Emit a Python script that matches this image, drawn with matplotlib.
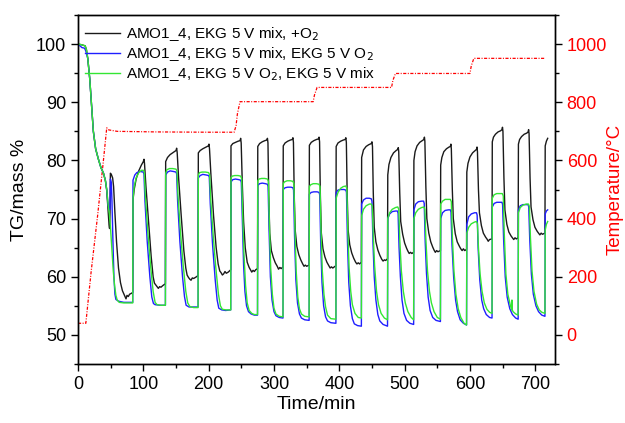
import matplotlib
matplotlib.use("Agg")
import matplotlib.pyplot as plt
from matplotlib.ticker import MultipleLocator
import numpy as np

plt.rcParams['font.family'] = ['Liberation Sans', 'DejaVu Sans']

# ---------------- data ----------------
labels = ["AMO1_4, EKG 5 V mix, +O$_2$",
          "AMO1_4, EKG 5 V mix, EKG 5 V O$_2$",
          "AMO1_4, EKG 5 V O$_2$, EKG 5 V mix"]

black_t = [0, 5, 11, 13, 15, 18, 21, 23.5, 27, 31, 35, 39, 42, 44, 46, 47.5, 48.3, 49, 49.6, 51, 53, 54.5, 56.5, 59, 62, 65, 68, 70, 72, 73.5, 75, 77, 79, 81, 83.8,
           84.2, 86, 89, 93, 97, 100, 101, 101.8, 104, 108, 112, 115, 117, 119, 121, 123, 125, 127, 130, 133.8,
           134.2, 137, 141, 146, 150, 151, 151.8, 154, 158, 162, 165, 167, 169, 171, 173, 175, 177, 180, 183.8,
           184.2, 187, 191, 196, 199.5, 200.5, 201.3, 203.5, 207.5, 211.5, 214.5, 217, 219, 221, 223, 225, 227, 230, 233.8,
           234.2, 237, 241, 245, 248, 249, 249.8, 251.5, 253.5, 256, 259, 262, 264, 266, 268, 270, 272, 274.8,
           275.2, 278, 282, 286, 289, 290, 290.8, 292, 293.5, 296, 299, 302, 305, 307, 309, 311, 313.8,
           314.2, 317, 321, 325, 328, 329, 329.8, 331, 332.5, 335, 338, 341, 344, 346, 348, 350, 353.8,
           354.2, 357, 361, 365, 368, 369, 369.8, 371, 372.5, 375, 378, 381, 384, 386, 388, 390, 394.8,
           395.2, 398, 402, 406, 409, 410, 410.8, 412, 413.5, 416, 419, 422, 425, 427, 429, 431, 433.8,
           434.2, 437, 441, 445, 449, 450, 450.8, 452, 453.5, 456, 459, 462, 465, 467, 469, 471, 473.8,
           474.2, 476, 479, 483, 487, 489.5, 490.3, 491, 492.5, 494, 497, 500, 503, 505, 507, 509, 511, 513.8,
           514.2, 516, 519, 523, 527, 529.5, 530.3, 531, 532.5, 534, 537, 540, 543, 545, 547, 549, 551, 554.8,
           555.2, 557, 560, 564, 568, 570, 570.8, 571.5, 573, 574.5, 577.5, 580.5, 584, 586, 588, 590, 592, 594.8,
           595.2, 597, 600, 604, 608, 610, 610.8, 611.5, 613, 614.5, 617.5, 620.5, 624, 626, 628, 630, 633.8,
           634.2, 636, 639, 643, 647, 649, 649.8, 650.5, 652, 653.5, 656.5, 659.5, 663, 665, 667, 669, 671, 673.8,
           674.2, 676, 679, 683, 687, 689, 689.8, 690.5, 692, 693.5, 696.5, 699.5, 703, 705, 707, 709, 711, 714.8,
           715.2, 717, 719]
black_m = [100, 99.9, 99.7, 99, 97.5, 94, 89, 85, 82, 80.3, 78.8, 77.8, 76.5, 74.8, 71.5, 69, 68.3, 71, 77.8, 77.6, 77, 75.5, 71, 66, 61.5, 59, 57.6, 57.1, 56.6, 56.2, 56.8, 56.6, 57.0, 57.1, 57.3,
           73.2, 75, 76.8, 78.2, 79.2, 79.8, 80.2, 79.5, 75.5, 69.5, 63.5, 60, 58.9, 58.6, 58.3, 58.0, 58.3, 58.2, 58.5, 58.8,
           79.8, 80.5, 81.0, 81.4, 81.7, 82.1, 81.4, 77, 70.5, 64.5, 61.5, 60.3, 59.9, 59.6, 59.4, 59.8, 59.7, 59.9, 60.2,
           81.3, 81.7, 82.0, 82.3, 82.5, 82.8, 82.0, 77.5, 70.5, 65, 62.2, 61, 60.7, 60.3, 60.5, 60.9, 60.6, 60.8, 61.2,
           82.5, 82.9, 83.1, 83.3, 83.4, 83.8, 83.0, 76, 69.5, 65, 62.5, 61.6, 61.2, 60.8, 61.1, 60.9, 61.2, 61.4,
           82.4, 82.9, 83.2, 83.4, 83.5, 83.8, 83.0, 74, 67.5, 64.5, 63.3, 62.4, 61.8, 61.3, 61.6, 61.4, 61.7,
           82.5, 83.0, 83.3, 83.5, 83.6, 83.9, 83.1, 74, 68, 65.2, 63.8, 62.9, 62.2, 61.8, 62.0, 61.8, 62.0,
           82.6, 83.1, 83.4, 83.6, 83.7, 84.0, 83.2, 74, 67.5, 64.8, 63.4, 62.5, 61.9, 61.5, 61.7, 61.5, 61.9,
           82.4, 83.0, 83.3, 83.5, 83.6, 83.9, 83.1, 74.5, 68, 65.5, 64.1, 63.2, 62.5, 62.2, 62.4, 62.2, 62.5,
           80.5, 81.8, 82.4, 82.7, 82.9, 83.2, 82.4, 74.5, 68.5, 66, 64.6, 63.7, 63.0, 62.7, 62.9, 62.8, 63.1,
           77.5, 79.3, 80.5, 81.3, 81.7, 81.9, 82.2, 81.5, 74.5, 69.5, 67.3, 65.8, 64.9, 64.4, 64.0, 64.2, 64.0, 64.2,
           80.0, 81.5, 82.5, 83.1, 83.4, 83.6, 84.0, 83.3, 75.5, 70, 67.5, 66, 65.1, 64.6, 64.2, 64.5, 64.3, 64.5,
           79.2, 80.5, 81.5, 82.0, 82.3, 82.4, 82.8, 82.0, 75, 70, 67.4, 66, 65.2, 64.8, 64.5, 64.8, 64.5, 64.7,
           78.0, 79.5, 80.6, 81.3, 81.7, 81.9, 82.3, 81.5, 75, 71, 68.8, 67.5, 66.8, 66.5, 66.1, 66.4, 66.5,
           83.2, 84.0, 84.5, 84.9, 85.1, 85.3, 85.7, 85.0, 77, 71.5, 69.0, 67.7, 67.0, 66.7, 66.4, 66.7, 66.5, 66.7,
           82.8, 83.6, 84.1, 84.5, 84.7, 84.9, 85.3, 84.6, 77, 72, 69.8, 68.5, 67.8, 67.5, 67.2, 67.5, 67.3, 67.5,
           82.5, 83.3, 83.8]

blue_t = [0, 3, 6, 10, 12, 15, 18, 21, 23.5, 27, 31, 35, 39, 42, 44, 46, 48, 49, 49.6, 51, 52, 53.5, 55, 56.5, 58, 62, 70, 80, 83.8,
          84.2, 87, 90, 95, 100, 101, 102.5, 106, 110, 113, 115.5, 118, 125, 133.8,
          134.2, 137, 141, 146, 150, 151, 152.5, 156, 160, 163, 165.5, 170, 176, 183.8,
          184.2, 187, 191, 196, 200, 201, 202.5, 206, 210, 213, 215.5, 220, 226, 233.8,
          234.2, 237, 241, 246, 249, 250, 251.5, 253.5, 255.5, 258, 261, 265, 270, 274.8,
          275.2, 278, 282, 287, 290, 291, 292.5, 294.5, 297, 300, 303, 308, 313.8,
          314.2, 317, 321, 326, 329, 330, 331.5, 333.5, 336, 339, 342, 347, 353.8,
          354.2, 357, 361, 366, 369, 370, 371.5, 373.5, 376, 379, 382, 387, 394.8,
          395.2, 398, 402, 407, 410, 411, 412.5, 414.5, 417, 420, 423, 428, 433.8,
          434.2, 437, 441, 446, 449, 450, 451.5, 453.5, 456, 459, 462, 467, 473.8,
          474.2, 477, 481, 486, 489, 490, 491.5, 493.5, 496, 499, 503, 508, 513.8,
          514.2, 517, 521, 526, 529, 530, 531.5, 533.5, 536, 539, 543, 548, 554.8,
          555.2, 558, 562, 567, 570, 571, 572.5, 575, 578, 581, 585, 590, 594.8,
          595.2, 598, 602, 607, 610, 611, 612.5, 615, 618, 621, 625, 630, 633.8,
          634.2, 637, 641, 646, 649, 650, 651.5, 654, 657, 661, 665, 670, 673.8,
          674.2, 677, 681, 686, 689, 690, 691.5, 694, 697, 701, 705, 710, 714.8,
          715.2, 717, 719]
blue_m = [100, 99.7, 99.4, 99.3, 98.8, 97.5, 94, 89, 85, 82, 80.3, 78.8, 77.8, 76.5, 75, 72.3, 71.5, 71.6, 76.8, 76.2, 73, 66, 60, 57, 56.1, 55.8, 55.6, 55.6, 55.6,
          76.6, 77.5, 77.9, 78.1, 78.0, 77.6, 73, 66, 60, 56.5, 55.4, 55.2, 55.1, 55.1,
          77.5, 78.0, 78.2, 78.1, 78.0, 77.7, 73, 66, 60, 56.6, 55.1, 54.8, 54.8, 54.8,
          77.0, 77.4, 77.6, 77.5, 77.4, 77.1, 72.5, 65.5, 59.5, 56, 54.6, 54.3, 54.2, 54.3,
          76.3, 76.7, 76.8, 76.7, 76.6, 76.2, 70, 62, 57.5, 55, 54, 53.6, 53.4, 53.4,
          75.7, 76.0, 76.1, 76.0, 75.9, 75.5, 68, 60, 56, 54, 53.3, 53.0, 52.9,
          75.0, 75.3, 75.4, 75.4, 75.3, 74.9, 67, 59.5, 55.5, 53.6, 52.9, 52.6, 52.5,
          74.2, 74.5, 74.6, 74.6, 74.5, 74.1, 66, 59, 55, 53.1, 52.4, 52.1, 52.0,
          74.5, 74.9, 75.0, 75.0, 74.9, 74.5, 66, 59, 55, 52.8, 51.9, 51.6, 51.5,
          72.5, 73.2, 73.5, 73.5, 73.4, 73.0, 66, 60, 56, 53.5, 52.4, 51.8, 51.5,
          70.0, 70.8, 71.2, 71.3, 71.3, 70.9, 65, 60, 56, 53.7, 52.5, 52.0, 51.8,
          71.5, 72.5, 72.9, 73.0, 73.0, 72.6, 66, 60.5, 56.5, 54.2, 53.0, 52.5, 52.3,
          70.0, 71.0, 71.4, 71.5, 71.5, 71.1, 65.5, 60, 56, 54, 52.6, 52.0, 51.7,
          69.0, 70.3, 70.8, 71.0, 71.0, 70.6, 65, 59.5, 56, 54.5, 53.5, 53.0, 52.9,
          72.0, 72.6, 72.8, 72.8, 72.8, 72.4, 66.5, 60, 56.5, 54.5, 53.5, 52.9, 52.7,
          71.5, 72.2, 72.4, 72.4, 72.4, 72.0, 66.5, 60.5, 57, 55, 54, 53.4, 53.2,
          70.8, 71.3, 71.5]

green_t = [0, 5, 11, 13, 15, 18, 21, 23.5, 27, 31, 35, 39, 42, 44, 46, 48, 50, 52, 54, 56, 58, 60, 63, 70, 83.8,
           84.2, 86, 89, 93, 97, 100, 101.5, 103, 107, 111, 115, 118, 121, 127, 133.8,
           134.2, 136, 140, 145, 150, 151.5, 153, 157, 161, 165, 168, 171, 177, 183.8,
           184.2, 186, 190, 195, 200, 201.5, 203, 207, 211, 215, 218, 221, 227, 233.8,
           234.2, 236, 240, 245, 249, 250.5, 252, 254, 256.5, 259, 262, 266, 270, 274.8,
           275.2, 277, 281, 286, 290, 291.5, 293, 295, 297.5, 300, 303, 308, 313.8,
           314.2, 316, 320, 325, 329, 330.5, 332, 334, 336.5, 339, 342, 347, 353.8,
           354.2, 356, 360, 365, 369, 370.5, 372, 374, 376.5, 379, 382, 387, 394.8,
           395.2, 398, 402, 406, 410, 411.5, 413, 415, 417.5, 420, 424, 429, 433.8,
           434.2, 437, 441, 446, 449, 450.5, 452, 454, 457, 460, 464, 469, 473.8,
           474.2, 477, 481, 486, 489.5, 491, 492.5, 495, 498, 501, 505, 510, 513.8,
           514.2, 517, 521, 526, 529.5, 531, 532.5, 535, 538, 541, 545, 550, 554.8,
           555.2, 558, 562, 567, 570, 571.5, 573, 575.5, 578.5, 582, 586, 591, 594.8,
           595.2, 598, 602, 607, 610, 611.5, 613, 615.5, 618.5, 622, 626, 630, 633.8,
           634.2, 637, 641, 646, 649.5, 651, 652.5, 655, 658, 662, 664, 664.3, 664.7, 666, 670, 673.8,
           674.2, 677, 681, 686, 689.5, 691, 692.5, 695, 698, 702, 706, 710, 714.8,
           715.2, 717, 719]
green_m = [100, 99.9, 99.7, 99, 97.5, 94, 89, 85, 82, 80.3, 78.8, 77.8, 76.5, 75, 72.5, 70.8, 68, 64.5, 61, 58.5, 56.8, 56, 55.6, 55.5, 55.5,
           73.4, 75.5, 77, 77.9, 78.3, 78.3, 78.0, 74, 67.5, 62, 57.5, 55.6, 55.2, 55.1, 55.1,
           77.8, 78.4, 78.6, 78.6, 78.5, 78.2, 74, 67.5, 62, 57.5, 55.5, 54.9, 54.7, 54.7,
           77.5, 77.9, 78.0, 78.0, 77.9, 77.5, 73.5, 67, 61.5, 57, 55, 54.4, 54.3, 54.3,
           77.0, 77.3, 77.4, 77.4, 77.3, 76.9, 71, 64, 58.5, 55.5, 54.2, 53.7, 53.5, 53.5,
           76.5, 76.8, 76.9, 76.9, 76.8, 76.4, 69, 61.5, 57, 54.6, 53.6, 53.2, 53.1,
           76.0, 76.3, 76.5, 76.5, 76.4, 76.0, 68.5, 61, 56.5, 54.5, 53.6, 53.2, 53.1,
           75.5, 75.8, 76.0, 76.0, 75.9, 75.5, 68, 61, 57, 54.8, 53.4, 52.8, 52.7,
           73.5, 74.5, 75.2, 75.5, 75.6, 75.2, 68, 61.5, 57.5, 55.2, 53.7, 53.0, 52.9,
           70.5, 71.6, 72.2, 72.5, 72.5, 72.1, 67, 62, 57.5, 55.2, 53.7, 52.9, 52.6,
           70.0, 71.0, 71.6, 71.9, 72.0, 71.6, 66.5, 61, 57.5, 55.5, 54, 53, 52.6,
           70.0, 71.0, 71.6, 71.9, 72.0, 71.6, 66.5, 61, 57.5, 55.5, 54, 53, 52.7,
           72.5, 73.0, 73.3, 73.3, 73.3, 72.9, 67, 61, 57, 54.5, 53, 52.0, 51.7,
           67.5, 68.5, 69.1, 69.4, 69.5, 69.1, 65, 60.5, 57.5, 55.5, 54.4, 53.9, 53.7,
           73.5, 74.1, 74.3, 74.3, 74.3, 73.9, 67.5, 60.5, 57, 55, 54.3, 56.0, 54.3, 54.0, 53.6, 53.4,
           71.0, 71.9, 72.3, 72.5, 72.5, 72.1, 67, 61, 57.5, 55.3, 54.3, 53.9, 53.7,
           68.0, 69.0, 69.5]

temp_t = [0, 12, 20, 30, 38, 44, 47, 60, 120, 200, 239, 242, 244, 248, 360, 362, 366, 480, 482, 486, 600, 602, 606, 715]
temp_c = [40, 40, 215, 410, 580, 712, 705, 700, 698, 697, 697, 720, 760, 802, 802, 825, 851, 851, 875, 899, 899, 925, 951, 951]

xticks = [0, 100, 200, 300, 400, 500, 600, 700]
yticks_left = [50, 60, 70, 80, 90, 100]
yticks_right = [0, 200, 400, 600, 800, 1000]

# ---------------- figure ----------------
fig = plt.figure(figsize=(6.25, 4.23), dpi=100)
ax = fig.add_axes([0.1248, 0.1395, 0.763, 0.825])
ax2 = ax.twinx()

ax2.plot(temp_t, temp_c, color='red', lw=0.9, linestyle=(0, (2.5, 1.2, 0.8, 1.2)))

ax.plot(black_t, black_m, color='#1a1a1a', lw=1.0, label=labels[0])
ax.plot(blue_t, blue_m, color='#1f1fff', lw=1.0, label=labels[1])
ax.plot(green_t, green_m, color='#33e633', lw=1.0, label=labels[2])

ax.set_zorder(ax2.get_zorder() + 1)
ax.patch.set_visible(False)

ax.set_xlim(0, 730)
ax.set_ylim(45, 105)
ax2.set_ylim(-100, 1100)

ax.set_xticks(xticks)
ax.set_yticks(yticks_left)
ax2.set_yticks(yticks_right)
ax.xaxis.set_minor_locator(MultipleLocator(50))
ax.yaxis.set_minor_locator(MultipleLocator(5))
ax2.yaxis.set_minor_locator(MultipleLocator(100))

ax.tick_params(which='major', length=5, width=1, labelsize=13, direction='out')
ax.tick_params(which='minor', length=3, width=1, direction='out')
ax.tick_params(axis='x', top=False, which='both')
ax2.tick_params(which='major', length=5, width=1, labelsize=13, direction='out', labelcolor='red')
ax2.tick_params(which='minor', length=3, width=1, direction='out')

for a in (ax, ax2):
    for s in a.spines.values():
        s.set_linewidth(1.0)

ax.set_xlabel("Time/min", fontsize=14, labelpad=2)
ax.set_ylabel("TG/mass %", fontsize=14, labelpad=6)
ax2.set_ylabel("Temperature/°C", fontsize=13.5, color='red', labelpad=0)

ax.legend(loc='upper left', bbox_to_anchor=(0.015, 0.97), frameon=False,
          fontsize=11, handlelength=2.3, handletextpad=0.4, labelspacing=0.12,
          borderpad=0, borderaxespad=0)

fig.savefig("out.png", dpi=100)
